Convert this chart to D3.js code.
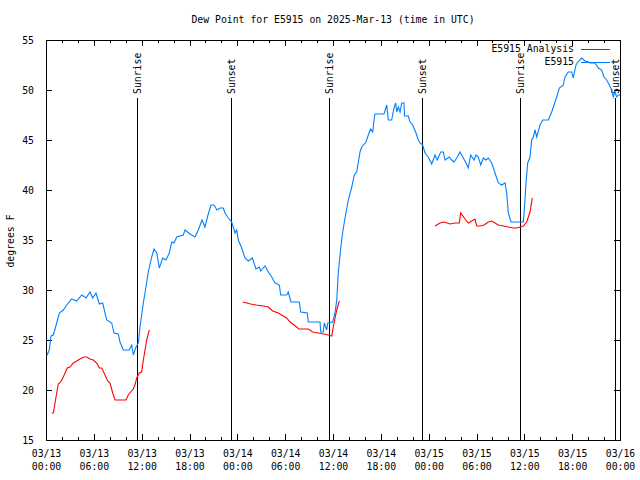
<!DOCTYPE html>
<html><head><meta charset="utf-8">
<script src="https://cdn.jsdelivr.net/npm/d3@7"></script>
<style>
body{margin:0;background:#fff;}
text{font-family:"DejaVu Sans Mono",monospace;font-size:9.8px;fill:#000;}
</style></head>
<body><svg id="c" width="640" height="480"></svg>
<script>
// ---- data (hours since 2025-03-13 00:00 UTC) ----
const titleText = "Dew Point for E5915 on 2025-Mar-13 (time in UTC)";
const yLabel = "degrees F";
const yTicks = [15,20,25,30,35,40,45,50,55];
const seriesNames = ["E5915 Analysis","E5915"];

const obsHours = [0.09,0.41,0.63,0.92,1.34,1.67,2.17,2.60,3.22,3.85,4.48,5.02,5.52,5.86,6.27,6.69,7.11,7.61,8.24,8.53,9.07,9.28,9.70,10.45,10.75,10.95,11.29,11.58,11.79,12.21,12.54,12.83,13.26,13.55,13.89,14.21,14.64,15.05,15.47,15.77,16.06,16.39,17.22,17.44,18.06,18.69,19.10,19.57,19.94,20.32,20.70,21.07,21.45,21.83,22.24,22.45,22.87,23.29,23.71,23.92,24.12,24.55,24.96,25.38,25.88,26.34,26.76,26.93,27.47,27.89,28.31,28.73,29.27,29.44,30.19,30.39,30.73,31.77,31.95,32.78,32.90,34.37,34.46,34.78,34.91,35.21,35.34,35.96,36.25,36.47,36.67,36.97,37.22,37.51,37.92,38.35,38.67,38.97,39.39,39.60,40.14,40.43,40.73,40.98,41.18,41.27,42.40,42.74,42.94,43.36,43.65,43.86,43.99,44.19,44.41,44.62,44.91,44.97,45.45,45.66,46.00,46.41,46.70,46.91,47.25,47.54,47.95,48.38,48.80,49.08,49.51,49.84,50.05,50.59,50.89,51.18,51.52,51.93,52.35,52.68,52.97,53.27,53.69,53.94,54.23,54.53,54.86,55.19,55.48,55.91,56.32,56.74,57.16,57.58,57.79,57.99,58.33,59.87,60.00,60.21,60.42,60.71,60.92,61.13,61.34,61.55,61.97,62.31,63.01,63.43,63.72,64.06,64.39,64.89,65.10,65.52,65.94,66.14,66.48,66.70,67.20,67.61,68.03,68.24,68.87,69.28,69.70,69.99,70.33,70.66,70.96,71.16,71.37,71.59,71.79,72.0];
const obsDewPoint = [23.4,24.0,25.4,25.5,26.7,27.7,28.0,28.5,29.1,28.9,29.5,29.2,29.8,29.2,29.7,28.6,28.7,27.0,26.7,25.7,25.6,24.8,24.0,24.0,24.5,23.5,24.3,24.7,26.3,28.7,30.3,31.8,33.3,34.1,33.7,32.2,33.2,33.0,33.7,34.8,34.7,35.3,35.5,36.0,35.6,35.3,36.0,37.0,36.3,37.5,38.5,38.5,38.0,38.2,38.2,37.7,37.2,36.8,35.7,36.0,35.0,34.2,33.2,32.9,33.2,32.1,32.3,31.9,32.4,31.8,31.3,30.7,30.5,29.5,29.5,29.8,28.8,28.8,27.8,27.7,26.8,26.8,25.8,25.8,26.7,26.0,26.7,26.8,27.7,29.0,31.8,34.2,35.8,37.2,39.0,40.3,41.5,41.8,43.8,44.3,44.8,45.5,46.1,45.8,47.2,47.6,47.6,48.5,47.0,47.0,48.2,48.7,47.8,48.3,47.8,48.7,48.7,47.4,47.4,46.8,46.5,45.7,45.0,44.7,44.5,43.7,43.3,42.6,43.5,43.0,43.8,43.8,43.0,43.3,43.0,42.8,43.2,43.8,43.2,42.7,42.2,43.5,43.0,43.5,43.3,42.5,43.2,43.0,43.2,42.7,41.7,40.7,40.5,40.7,39.7,37.7,36.8,36.8,38.0,40.7,42.7,43.3,45.0,45.3,46.0,45.3,46.5,47.0,47.0,47.8,48.5,49.3,50.2,50.5,51.3,51.8,51.8,51.2,52.5,52.8,53.2,52.9,52.8,52.7,52.7,52.2,52.0,51.3,51.0,50.5,50.0,49.3,49.8,49.3,49.5,49.5];

// analysis: null marks a gap between runs
const anaHours = [0.72,0.92,1.13,1.34,1.54,1.84,2.17,2.67,3.01,3.42,3.85,4.26,4.77,5.11,5.52,5.93,6.36,6.69,6.99,7.40,7.74,8.03,8.37,8.66,10.04,10.32,10.62,10.95,11.16,11.38,11.70,12.00,12.21,12.42,12.63,12.96,
  18.0,
  24.67,25.18,25.68,26.34,27.26,27.89,28.44,29.14,29.77,30.19,30.61,31.11,31.74,32.90,33.46,34.16,34.78,35.41,35.84,36.13,36.47,36.79,
  42.0,
  48.80,49.42,49.92,50.68,51.30,51.84,52.02,52.56,52.97,53.40,53.81,54.02,54.44,54.94,55.48,55.91,56.32,56.74,57.36,57.99,58.62,59.04,59.46,59.87,60.30,60.71,61.00];
const anaDewPoint = [17.7,17.7,18.7,19.7,20.6,20.8,21.3,22.2,22.3,22.7,22.9,23.1,23.3,23.3,23.1,23.0,22.7,22.2,22.2,21.5,20.9,20.7,19.7,19.0,19.0,19.5,19.8,20.1,20.5,21.2,21.7,21.8,23.0,24.0,25.0,26.0,
  null,
  28.8,28.7,28.6,28.5,28.4,28.3,27.9,27.7,27.4,27.2,26.8,26.5,26.1,26.1,25.8,25.7,25.6,25.5,25.4,26.7,28.0,28.9,
  null,
  36.4,36.7,36.8,36.6,36.7,36.7,37.7,37.1,36.7,36.9,37.1,36.4,36.4,36.5,36.8,36.9,36.7,36.5,36.4,36.3,36.2,36.2,36.3,36.4,36.8,37.8,39.2];

const sunEventHours = [11.41,23.2,35.5,47.2,59.5,71.37];
const sunEventNames = ["Sunrise","Sunset","Sunrise","Sunset","Sunrise","Sunset"];

// ---- drawing ----
const T0 = Date.UTC(2025,2,13);
const toDate = h => new Date(T0 + h*3600000);
const L=46, R=620, T=40, B=440;
const svg = d3.select("#c");
const x = d3.scaleUtc().domain([toDate(0), toDate(72)]).range([L,R]);
const y = d3.scaleLinear().domain([15,55]).range([B,T]);

const majorT = d3.range(0,73,6).map(toDate);
const minorT = d3.range(0,73,2).filter(h=>h%6!==0).map(toDate);

// bottom major with 2-line labels
const fmtD = d3.utcFormat("%m/%d"), fmtH = d3.utcFormat("%H:%M");
const gb = svg.append("g").attr("transform",`translate(0,${B})`)
  .call(d3.axisBottom(x).tickValues(majorT).tickSize(-6).tickPadding(0).tickFormat(""));
gb.select(".domain").remove();
gb.selectAll(".tick").each(function(d){
  const t = d3.select(this).append("text").attr("text-anchor","middle");
  t.append("tspan").attr("x",0).attr("y",17).text(fmtD(d));
  t.append("tspan").attr("x",0).attr("y",30).text(fmtH(d));
});
const gbm = svg.append("g").attr("transform",`translate(0,${B})`)
  .call(d3.axisBottom(x).tickValues(minorT).tickSize(-3).tickFormat(""));
gbm.select(".domain").remove();
// top mirror
const gt = svg.append("g").attr("transform",`translate(0,${T})`)
  .call(d3.axisTop(x).tickValues(majorT).tickSize(-6).tickFormat(""));
gt.select(".domain").remove();
const gtm = svg.append("g").attr("transform",`translate(0,${T})`)
  .call(d3.axisTop(x).tickValues(minorT).tickSize(-3).tickFormat(""));
gtm.select(".domain").remove();
// left
const gl = svg.append("g").attr("transform",`translate(${L},0)`)
  .call(d3.axisLeft(y).tickValues(yTicks).tickSize(-6).tickPadding(12).tickFormat(d3.format("d")));
gl.select(".domain").remove();
gl.selectAll("text").attr("font-family",null).attr("font-size",null).attr("dy","0.35em");
// right mirror
const gr = svg.append("g").attr("transform",`translate(${R},0)`)
  .call(d3.axisRight(y).tickValues(yTicks).tickSize(-6).tickFormat(""));
gr.select(".domain").remove();
svg.selectAll(".tick line").attr("stroke","#000").attr("shape-rendering","crispEdges");
svg.selectAll("g").attr("font-family",null).attr("font-size",null);

// frame
svg.append("rect").attr("x",L).attr("y",T).attr("width",R-L).attr("height",B-T)
  .attr("fill","none").attr("stroke","#000").attr("shape-rendering","crispEdges");

// sun lines
sunEventHours.forEach((h,i)=>{
  const xx = Math.round(x(toDate(h)))+0.5;
  svg.append("line").attr("x1",xx).attr("x2",xx).attr("y1",98).attr("y2",B)
    .attr("stroke","#000").attr("shape-rendering","crispEdges");
  svg.append("text").attr("transform",`translate(${xx},94) rotate(-90)`)
    .attr("dy","0.35em").attr("text-anchor","start").text(sunEventNames[i]);
});

// series
const obs = obsHours.map((h,i)=>({t:toDate(h),v:obsDewPoint[i]}));
const ana = anaHours.map((h,i)=>({t:toDate(h),v:anaDewPoint[i]}));
const line = d3.line().defined(d=>d.v!==null).x(d=>x(d.t)).y(d=>y(d.v));
svg.append("path").datum(ana).attr("d",line).attr("fill","none").attr("stroke","#ff0000").attr("stroke-width",1.1);
svg.append("path").datum(obs).attr("d",line).attr("fill","none").attr("stroke","#0080ff").attr("stroke-width",1.1);

// legend
const legColors = ["#ff0000","#0080ff"];
seriesNames.forEach((n,i)=>{
  const ly = 49 + i*13;
  svg.append("text").attr("x",574).attr("y",ly).attr("dy","0.35em").attr("text-anchor","end").text(n);
  svg.append("line").attr("x1",581).attr("x2",610).attr("y1",ly+0.5).attr("y2",ly+0.5)
    .attr("stroke",legColors[i]).attr("shape-rendering","crispEdges");
});

// title & y label
svg.append("text").attr("x",333).attr("y",23).attr("text-anchor","middle").text(titleText);
svg.append("text").attr("transform","translate(11,241) rotate(-90)").attr("dy","0.35em")
  .attr("text-anchor","middle").text(yLabel);
</script></body></html>
